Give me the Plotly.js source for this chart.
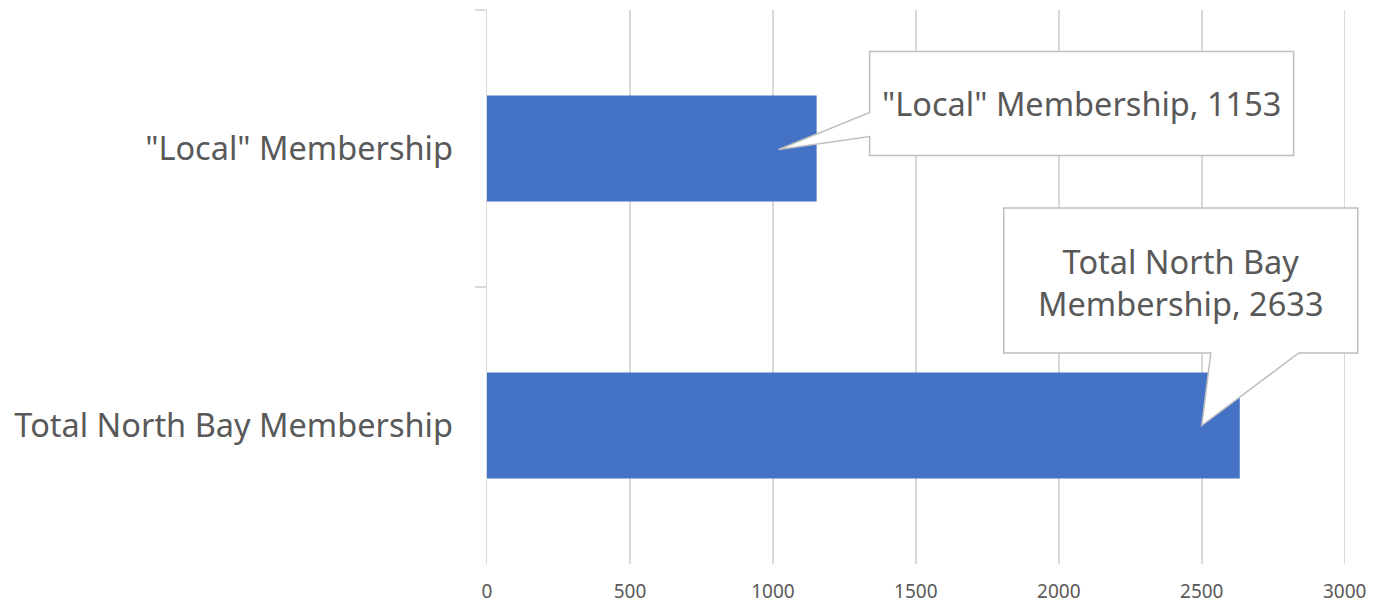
<!DOCTYPE html>
<html>
<head>
<meta charset="utf-8">
<script src="https://cdn.plot.ly/plotly-3.0.1.min.js"></script>
<style>html,body{margin:0;padding:0;background:#fff;}#chart{width:1375px;height:606px;}</style>
</head>
<body>
<div id="chart"></div>
<script>
const categories = ['"Local" Membership', 'Total North Bay Membership'];
const values = [1153, 2633];
const calloutLabels = ['"Local" Membership, 1153', 'Total North Bay<br>Membership, 2633'];
const xTickVals = [0, 500, 1000, 1500, 2000, 2500, 3000];
const xTickText = ['0', '500', '1000', '1500', '2000', '2500', '3000'];

const textColor = '#595959';
const fontFam = '"Noto Sans", "Open Sans", sans-serif';

// Callout geometry in pixels relative to the bar end (style, not data)
const calloutPaths = [
  'M -38,-1 L 53,12 L 53,-7 L 477,-7 L 477,97 L 53,97 L 53,36 Z',
  'M -38,0 L 59,72.5 L 118,72.5 L 118,217.5 L -236,217.5 L -236,72.5 L -29,72.5 Z'
];
const calloutTextShift = [[265, 45], [-59, 143]];

const shapes = values.map((v, i) => ({
  type: 'path', xref: 'x', yref: 'y',
  xsizemode: 'pixel', ysizemode: 'pixel',
  xanchor: v, yanchor: categories[i],
  path: calloutPaths[i],
  fillcolor: '#ffffff',
  line: {color: '#bfbfbf', width: 1.5},
  layer: 'above'
}));

const annotations = values.map((v, i) => ({
  x: v, y: categories[i], xref: 'x', yref: 'y',
  text: calloutLabels[i], showarrow: false,
  xshift: calloutTextShift[i][0], yshift: calloutTextShift[i][1],
  xanchor: 'center', yanchor: 'middle', align: 'center',
  font: {family: fontFam, size: 32.5, color: textColor}
}));

const data = [{
  type: 'bar', orientation: 'h',
  x: values, y: categories,
  marker: {color: '#4472C4'},
  hoverinfo: 'none'
}];

const layout = {
  width: 1375, height: 606,
  margin: {l: 487, r: 15.7, t: 10, b: 42, pad: 0},
  paper_bgcolor: '#ffffff', plot_bgcolor: '#ffffff',
  showlegend: false,
  bargap: 0.617,
  font: {family: fontFam, color: textColor},
  xaxis: {
    range: [0, 3050], tickvals: xTickVals, ticktext: xTickText,
    showgrid: true, gridcolor: '#d9d9d9', gridwidth: 1.5,
    zeroline: false, showline: false, ticks: '',
    ticklabelstandoff: 14,
    tickfont: {family: fontFam, size: 19, color: textColor},
    fixedrange: true
  },
  yaxis: {
    type: 'category', range: [1.5, -0.5],
    tickson: 'boundaries', ticks: 'outside', ticklen: 11,
    tickcolor: '#d9d9d9', tickwidth: 1.5,
    showline: true, linecolor: '#d9d9d9', linewidth: 1.5,
    showgrid: false, zeroline: false,
    ticklabelstandoff: 26,
    tickfont: {family: fontFam, size: 32.5, color: textColor},
    fixedrange: true
  },
  shapes: shapes,
  annotations: annotations
};

Plotly.newPlot('chart', data, layout, {displayModeBar: false, staticPlot: true});
</script>
</body>
</html>
